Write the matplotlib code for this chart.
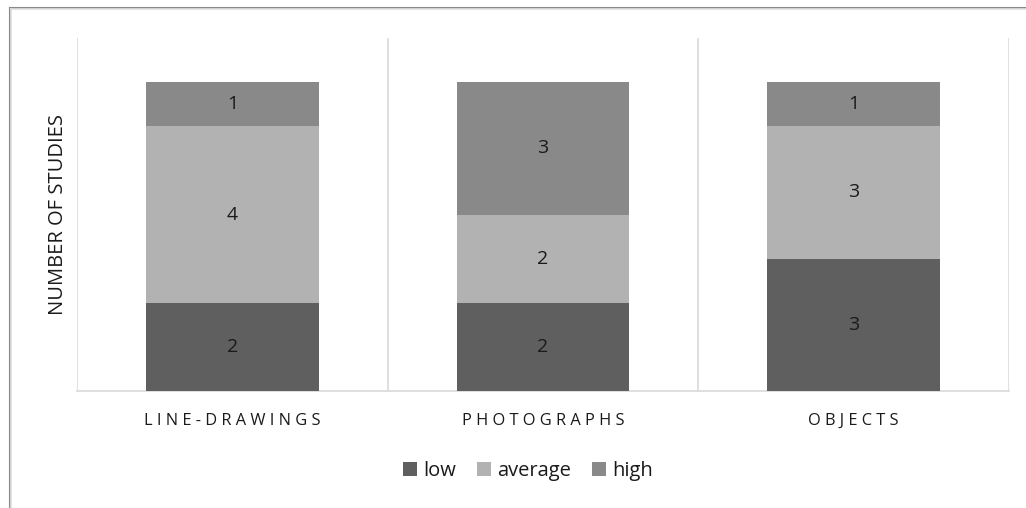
import matplotlib
matplotlib.use("Agg")
import matplotlib.pyplot as plt
from matplotlib.lines import Line2D
from matplotlib.patches import Patch

categories = ["LINE-DRAWINGS", "PHOTOGRAPHS", "OBJECTS"]
low = [2, 2, 3]
average = [4, 2, 3]
high = [1, 3, 1]
series_names = ["low", "average", "high"]
colors = ["#5f5f5f", "#b2b2b2", "#898989"]

plt.rcParams["font.family"] = ["Open Sans", "DejaVu Sans"]

W, H = 1026, 508
fig = plt.figure(figsize=(W / 100, H / 100), dpi=100)
ax = fig.add_axes([77 / W, 1 - 391 / H, (1009 - 77) / W, (391 - 38) / H])

x = list(range(len(categories)))
bar_w = 0.556
bottom = [0] * len(categories)
for vals, name, col in zip([low, average, high], series_names, colors):
    bars = ax.bar(x, vals, bar_w, bottom=bottom, color=col, label=name, zorder=3)
    for b, v in zip(bars, vals):
        ax.text(b.get_x() + b.get_width() / 2, b.get_y() + b.get_height() / 2,
                str(v), ha="center", va="center", fontsize=14, color="#1a1a1a", zorder=4)
    bottom = [b0 + v for b0, v in zip(bottom, vals)]

ax.set_xlim(-0.5, len(categories) - 0.5)
ax.set_ylim(0, 8)
ax.set_yticks([])
for xv in [-0.5, 0.5, 1.5, 2.5]:
    ax.axvline(xv, color="#d9d9d9", lw=1.2, zorder=1)
for s in ["top", "right", "left"]:
    ax.spines[s].set_visible(False)
ax.spines["bottom"].set_color("#d9d9d9")
ax.spines["bottom"].set_linewidth(1.2)
ax.set_xticks(x)
ax.set_xticklabels([" ".join(c) for c in categories], fontsize=11.8, color="#1a1a1a")
ax.tick_params(axis="x", length=0, pad=16)
ax.set_ylabel("NUMBER OF STUDIES", fontsize=14.5, color="#1a1a1a")
ax.yaxis.set_label_coords((68 - 77) / (1009 - 77), 0.5)

handles = [Patch(facecolor=c, label=n) for c, n in zip(colors, series_names)]
fig.legend(handles=handles, loc="center", bbox_to_anchor=(528 / W, 1 - 471 / H),
           ncol=3, frameon=False, fontsize=14.5, handlelength=0.7, handleheight=0.7,
           handletextpad=0.3, columnspacing=1.05, labelcolor="#1a1a1a",
           borderpad=0.0)

# outer frame along the left and top edges
fig.add_artist(Line2D([9.5 / W, 9.5 / W], [0, 1 - 7.5 / H], color="#8a8a8a", lw=1.5))
fig.add_artist(Line2D([9.5 / W, 1], [1 - 7.5 / H, 1 - 7.5 / H], color="#8a8a8a", lw=1.5))
fig.add_artist(Line2D([11 / W, 11 / W], [0, 1 - 9 / H], color="#e0e0e0", lw=1.2))
fig.add_artist(Line2D([11 / W, 1], [1 - 9.2 / H, 1 - 9.2 / H], color="#e0e0e0", lw=1.2))

fig.savefig("out.png", dpi=100)
